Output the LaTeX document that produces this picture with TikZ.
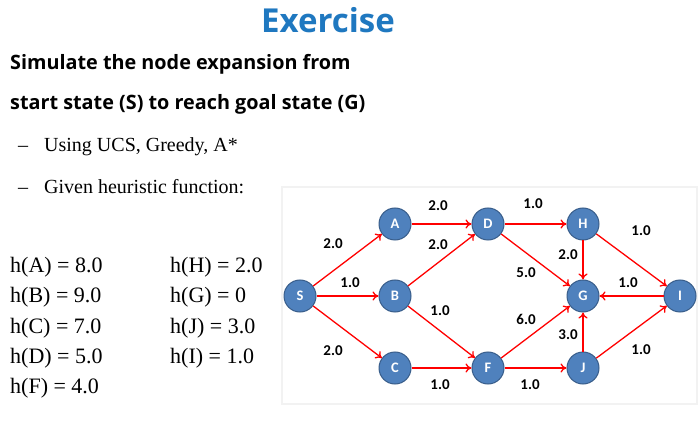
\documentclass[tikz,border=0pt]{standalone}
\usepackage{fontspec}
\setmainfont{Liberation Serif}
\newfontfamily\headfont{Open Sans}
\newfontfamily\calfont{Carlito}
\usetikzlibrary{arrows.meta}
\definecolor{titleblue}{HTML}{1F78C0}
\definecolor{nodefill}{HTML}{4F81BD}
\definecolor{nodeline}{HTML}{385D8A}
\tikzset{
  gnode/.style={circle,fill=nodefill,draw=nodeline,line width=1pt,minimum size=32pt,inner sep=0pt,text=white,font=\calfont\bfseries\fontsize{14.5}{14}\selectfont},
  edge/.style={red,line width=1.3pt,-{To[length=6pt,width=9pt]}},
  elab/.style={font=\calfont\bfseries\fontsize{15}{15}\selectfont,inner sep=0pt},
  hval/.style={anchor=base west,font=\fontsize{22}{22}\selectfont,inner sep=0pt},
  bullet/.style={anchor=base west,font=\fontsize{20}{20}\selectfont,inner sep=0pt},
  heading/.style={anchor=base west,font=\headfont\bfseries\fontsize{19.8}{20}\selectfont,inner sep=0pt}
}
\begin{document}
\begin{tikzpicture}[x=1pt,y=-1pt]
\useasboundingbox (0,0) rectangle (698,435);
\fill[white] (0,0) rectangle (698,435);
\draw[black!5,line width=1.5pt] (282,187) rectangle (697,404);
\node[font=\headfont\bfseries\fontsize{33}{33}\selectfont,text=titleblue,inner sep=0pt] (title) at (328,20) {Exercise};
\node[heading] (l1) at (10,70) {Simulate the node expansion from};
\node[heading] (l2) at (10,110) {start state (S) to reach goal state (G)};
\node[bullet] (b1) at (18,152) {–\hspace{16pt}Using UCS, Greedy, A*};
\node[bullet] (b2) at (18,194) {–\hspace{16pt}Given heuristic function:};
\node[hval] (hA) at (10,273) {h(A) = 8.0};
\node[hval] (hB) at (10,303) {h(B) = 9.0};
\node[hval] (hC) at (10,333) {h(C) = 7.0};
\node[hval] (hD) at (10,363) {h(D) = 5.0};
\node[hval] (hF) at (10,393) {h(F) = 4.0};
\node[hval] (hH) at (170,273) {h(H) = 2.0};
\node[hval] (hG) at (170,303) {h(G) = 0};
\node[hval] (hJ) at (170,333) {h(J) = 3.0};
\node[hval] (hI) at (170,363) {h(I) = 1.0};
\node[gnode] (S) at (300,296) {S};
\node[gnode] (A) at (395,224) {A};
\node[gnode] (B) at (395,296) {B};
\node[gnode] (C) at (395,368) {C};
\node[gnode] (D) at (488,224) {D};
\node[gnode] (F) at (488,368) {F};
\node[gnode] (H) at (583,224) {H};
\node[gnode] (G) at (583,296) {G};
\node[gnode] (J) at (583,368) {J};
\node[gnode] (I) at (680,296) {I};
\draw[edge] (S) -- (A);
\draw[edge] (S) -- (B);
\draw[edge] (S) -- (C);
\draw[edge] (A) -- (D);
\draw[edge] (B) -- (D);
\draw[edge] (B) -- (F);
\draw[edge] (C) -- (F);
\draw[edge] (D) -- (H);
\draw[edge] (D) -- (G);
\draw[edge] (F) -- (G);
\draw[edge] (F) -- (J);
\draw[edge] (H) -- (G);
\draw[edge] (H) -- (I);
\draw[edge] (I) -- (G);
\draw[edge] (J) -- (G);
\draw[edge] (J) -- (I);
\node[elab] (lSA) at (333,244) {2.0};
\node[elab] (lSB) at (350,283) {1.0};
\node[elab] (lSC) at (333,351) {2.0};
\node[elab] (lAD) at (438,206) {2.0};
\node[elab] (lBD) at (438,245) {2.0};
\node[elab] (lBF) at (440,311) {1.0};
\node[elab] (lCF) at (440,385) {1.0};
\node[elab] (lDH) at (533,204) {1.0};
\node[elab] (lDG) at (526,273) {5.0};
\node[elab] (lFG) at (526,319) {6.0};
\node[elab] (lHG) at (568,255) {2.0};
\node[elab] (lFJ) at (530,385) {1.0};
\node[elab] (lJG) at (568,335) {3.0};
\node[elab] (lHI) at (641,231) {1.0};
\node[elab] (lIG) at (628,283) {1.0};
\node[elab] (lJI) at (641,350) {1.0};
\end{tikzpicture}
\end{document}
